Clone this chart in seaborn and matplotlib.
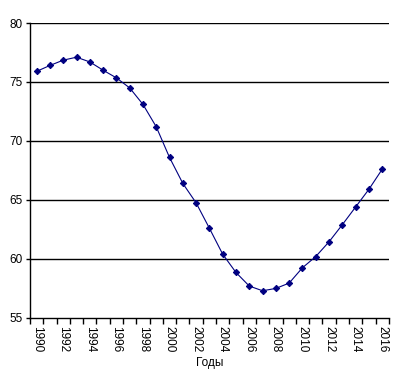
import numpy as np
import pandas as pd
import seaborn as sns
import matplotlib.pyplot as plt

# data
years = list(range(1990, 2017))
values = [75.9, 76.4, 76.85, 77.1, 76.7, 76.0, 75.35, 74.5, 73.1, 71.2,
          68.6, 66.4, 64.75, 62.6, 60.4, 58.85, 57.7, 57.3, 57.5, 57.95,
          59.25, 60.2, 61.45, 62.9, 64.4, 65.9, 67.6]
y_ticks = [55, 60, 65, 70, 75, 80]

df = pd.DataFrame({"pos": np.arange(len(years)), "year": years, "value": values})

sns.set_style("white")
plt.rcParams['font.family'] = ['Liberation Sans', 'DejaVu Sans']
plt.rcParams['text.color'] = 'black'
plt.rcParams['xtick.color'] = 'black'
plt.rcParams['ytick.color'] = 'black'
plt.rcParams['axes.labelcolor'] = 'black'

fig = plt.figure(figsize=(4.08, 3.74), dpi=100)
ax = fig.add_axes([0.0735, 0.150, 0.8795, 0.7885])

for t in y_ticks[1:]:
    ax.axhline(t, color='black', lw=1.0, zorder=1)

sns.lineplot(data=df, x="pos", y="value", ax=ax, color='#000080', lw=0.8,
             marker='D', markersize=3.2, markeredgecolor='#000080',
             markerfacecolor='#000080', zorder=3)

ax.set_xlim(-0.5, len(years) - 0.5)
ax.set_ylim(55, 80)
ax.set_yticks(y_ticks)
ax.set_yticklabels([str(t) for t in y_ticks], fontsize=8.5)

ax.set_xticks(df["pos"][::2])
ax.set_xticklabels([str(y) for y in years[::2]], rotation=-90, fontsize=8.5)
ax.set_xticks(np.arange(-0.5, len(years), 1), minor=True)
ax.tick_params(axis='x', which='major', length=0, pad=6)
ax.tick_params(axis='x', which='minor', length=4, width=1, color='black', direction='out')
ax.tick_params(axis='y', which='major', length=3, width=1, color='black', direction='out', pad=2)
ax.xaxis.set_ticks_position('bottom')
ax.yaxis.set_ticks_position('left')

for s in ['top', 'right']:
    ax.spines[s].set_visible(False)
for s in ['left', 'bottom']:
    ax.spines[s].set_color('black')
    ax.spines[s].set_linewidth(1.0)

ax.set_xlabel("Годы", fontsize=8.5, labelpad=3)
ax.set_ylabel("")

fig.savefig("out.png", dpi=100)
